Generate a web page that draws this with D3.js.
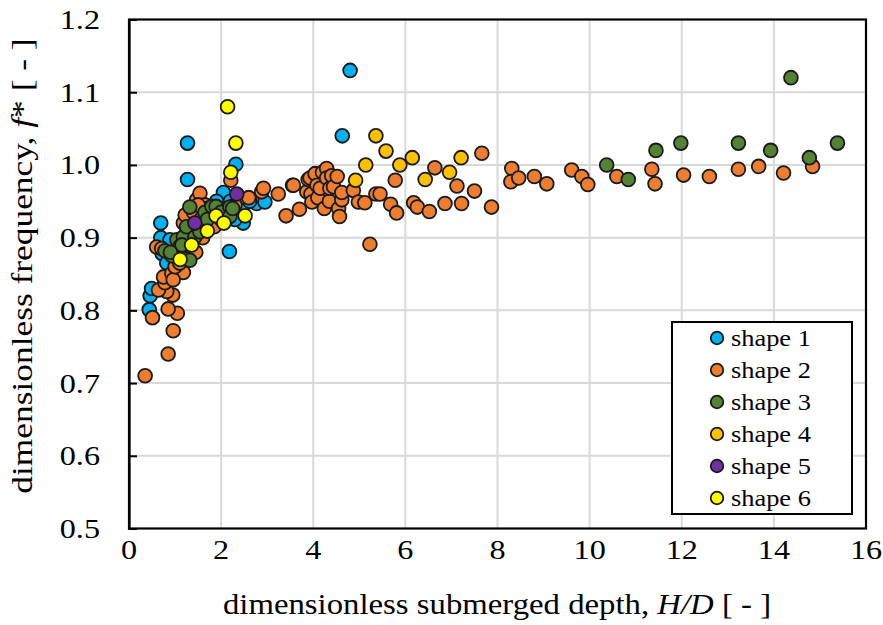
<!DOCTYPE html>
<html>
<head>
<meta charset="utf-8">
<script src="https://cdn.jsdelivr.net/npm/d3@7"></script>
<style>
  html, body { margin: 0; padding: 0; background: #ffffff; }
  svg { display: block; }
  text { font-family: "Liberation Serif", "Times New Roman", serif; fill: #000; }
</style>
</head>
<body>
<svg id="chart" width="883" height="625"></svg>
<script>
// ---------------- data ----------------
const seriesNames = ["shape 1", "shape 2", "shape 3", "shape 4", "shape 5", "shape 6"];
const seriesColors = ["#00B0F0", "#ED7D31", "#548235", "#FFC000", "#7030A0", "#FFFF00"];

const shape1 = [[0.44,0.801],[0.46,0.820],[0.49,0.830],[0.69,0.920],[0.69,0.900],[0.72,0.878],[0.89,0.897],
  [0.82,0.865],[1.00,0.875],[1.05,0.860],[1.27,1.030],[1.27,0.980],[2.18,0.881],[2.05,0.962],[2.32,1.001],
  [2.77,0.947],[2.95,0.949],[2.52,0.947],[2.48,0.920],[2.40,0.940],[2.62,0.950],[2.20,0.950],[1.90,0.950],
  [1.60,0.920],[2.30,0.925],[4.63,1.040],[4.80,1.130]];

const shape2 = [[0.35,0.710],[0.51,0.790],[0.85,0.740],[0.96,0.772],[1.05,0.796],[0.85,0.802],[0.95,0.821],
  [0.82,0.826],[0.64,0.828],[0.78,0.838],[0.75,0.846],[0.93,0.851],[1.18,0.852],[0.96,0.842],[0.60,0.887],
  [0.71,0.885],[1.00,0.860],[1.10,0.865],[1.22,0.880],[1.30,0.895],[1.18,0.920],[1.22,0.931],[1.40,0.935],
  [1.47,0.952],[1.54,0.961],[1.65,0.945],[1.75,0.925],[1.85,0.915],[1.60,0.900],[1.45,0.880],[2.00,0.925],
  [1.90,0.935],[2.10,0.940],[2.40,0.955],[1.70,0.940],[1.50,0.945],
  [2.21,0.979],[2.30,0.945],[2.60,0.955],[2.88,0.963],[2.92,0.968],[3.24,0.960],[3.41,0.930],[3.55,0.972],
  [3.57,0.972],[3.70,0.939],[3.86,0.963],[3.89,0.980],[3.93,0.982],[3.95,0.960],[3.97,0.949],[4.04,0.988],
  [4.08,0.972],[4.10,0.955],[4.15,0.968],[4.20,0.990],[4.24,0.940],[4.29,0.995],[4.29,0.982],[4.35,0.950],
  [4.36,0.968],[4.40,0.985],[4.44,0.970],[4.52,0.984],[4.55,0.940],[4.57,0.929],[4.62,0.952],[4.62,0.962],
  [4.87,0.965],[4.98,0.949],[5.12,0.948],[5.23,0.891],[5.36,0.960],[5.45,0.960],[5.68,0.946],[5.78,0.979],
  [5.81,0.934],[6.18,0.948],[6.26,0.942],[6.52,0.936],[6.64,0.996],[6.86,0.947],[7.12,0.971],[7.22,0.947],
  [7.50,0.964],[7.66,1.016],[7.87,0.942],[8.31,0.995],[8.29,0.977],[8.46,0.982],[8.80,0.984],[9.07,0.974],
  [9.61,0.993],[9.83,0.984],[9.96,0.973],[10.59,0.984],[11.35,0.994],[11.42,0.974],[12.04,0.986],
  [12.60,0.984],[13.23,0.994],[13.67,0.998],[14.21,0.989],[14.84,0.998]];

const shape3 = [[0.78,0.882],[0.93,0.875],[1.04,0.897],[1.11,0.888],[1.18,0.901],[1.24,0.871],[1.32,0.869],
  [1.15,0.890],[0.90,0.880],[1.25,0.915],[1.50,0.920],[1.32,0.942],[1.43,0.901],[1.54,0.908],[1.58,0.927],
  [1.65,0.935],[1.70,0.925],[1.80,0.943],[1.89,0.943],[2.00,0.935],[2.19,0.942],[2.19,0.929],[2.25,0.940],
  [10.37,1.000],[10.84,0.980],[11.44,1.020],[11.98,1.030],[13.23,1.030],[13.93,1.020],[14.37,1.120],
  [14.77,1.010],[15.38,1.030]];

const shape4 = [[4.92,0.979],[5.14,1.000],[5.36,1.040],[5.58,1.019],[5.88,1.000],[6.15,1.010],[6.43,0.980],
  [6.96,0.990],[7.21,1.010]];

const shape5 = [[1.43,0.920],[2.34,0.960]];

const shape6 = [[1.11,0.870],[1.36,0.890],[1.70,0.909],[1.89,0.930],[2.06,0.920],[2.52,0.930],[2.21,0.990],
  [2.32,1.030],[2.14,1.080]];

const allSeries = [shape1, shape2, shape3, shape4, shape5, shape6];

const xTicks = [0, 2, 4, 6, 8, 10, 12, 14, 16];
const yTicks = [0.5, 0.6, 0.7, 0.8, 0.9, 1.0, 1.1, 1.2];
const xTitle = ["dimensionless submerged depth, ", "H/D", " [ - ]"];
const yTitle = ["dimensionless frequency, ", "f", "*", " [ - ]"];

// ---------------- layout ----------------
const svg = d3.select("#chart");
const plot = { left: 129, right: 866, top: 19.5, bottom: 528.5 };

const x = d3.scaleLinear().domain([0, 16]).range([plot.left, plot.right]);
const y = d3.scaleLinear().domain([0.5, 1.2]).range([plot.bottom, plot.top]);

// gridlines
const grid = svg.append("g");
grid.selectAll("line.v").data(xTicks.filter(t => t > 0 && t < 16)).enter().append("line")
  .attr("x1", d => x(d)).attr("x2", d => x(d)).attr("y1", plot.top).attr("y2", plot.bottom)
  .attr("stroke", "#d9d9d9").attr("stroke-width", 2);
grid.selectAll("line.h").data(yTicks.filter(t => t > 0.5 && t < 1.2)).enter().append("line")
  .attr("x1", plot.left).attr("x2", plot.right).attr("y1", d => y(d)).attr("y2", d => y(d))
  .attr("stroke", "#d9d9d9").attr("stroke-width", 2);

// frame
svg.append("rect").attr("x", plot.left).attr("y", plot.top)
  .attr("width", plot.right - plot.left).attr("height", plot.bottom - plot.top)
  .attr("fill", "none").attr("stroke", "#000").attr("stroke-width", 2.2);

// left axis (inward ticks)
const yAxis = d3.axisRight(y).tickValues(yTicks).tickSize(8).tickFormat("");
const yAxisG = svg.append("g").attr("transform", `translate(${plot.left},0)`).call(yAxis);
yAxisG.select(".domain").attr("stroke", "#000").attr("stroke-width", 2.2);
yAxisG.selectAll(".tick line").attr("stroke", "#000").attr("stroke-width", 2);

// y tick labels
svg.append("g").selectAll("text").data(yTicks).enter().append("text")
  .attr("transform", d => `translate(100,${y(d) + 9.5}) scale(1.15,1)`)
  .attr("text-anchor", "end").attr("font-size", 28)
  .text(d => d3.format(".1f")(d));

// x tick labels
svg.append("g").selectAll("text").data(xTicks).enter().append("text")
  .attr("transform", d => `translate(${x(d)},559) scale(1.15,1)`)
  .attr("text-anchor", "middle").attr("font-size", 28)
  .text(d => d);

// x title
const xt = svg.append("text")
  .attr("transform", `translate(497,614) scale(1.13,1)`)
  .attr("text-anchor", "middle").attr("font-size", 29);
xt.append("tspan").text(xTitle[0]);
xt.append("tspan").attr("font-style", "italic").text(xTitle[1]);
xt.append("tspan").text(xTitle[2]);

// y title
const yt = svg.append("text")
  .attr("transform", `translate(32,266) rotate(-90) scale(1.22,1)`)
  .attr("text-anchor", "middle").attr("font-size", 29);
yt.append("tspan").text(yTitle[0]);
yt.append("tspan").attr("font-style", "italic").text(yTitle[1]);
yt.append("tspan").text(yTitle[2]);
yt.append("tspan").text(yTitle[3]);

// points
const pts = svg.append("g");
allSeries.forEach((data, i) => {
  pts.append("g").selectAll("circle").data(data).enter().append("circle")
    .attr("cx", d => x(d[0])).attr("cy", d => y(d[1])).attr("r", 6.9)
    .attr("fill", seriesColors[i]).attr("stroke", "#1a1a1a").attr("stroke-width", 1.8);
});

// legend
const lg = svg.append("g");
lg.append("rect").attr("x", 672).attr("y", 322).attr("width", 180).attr("height", 192)
  .attr("fill", "#fff").attr("stroke", "#000").attr("stroke-width", 2);
const rows = lg.selectAll("g.row").data(seriesNames).enter().append("g")
  .attr("transform", (d, i) => `translate(0,${338 + i * 32})`);
rows.append("circle").attr("cx", 717).attr("cy", 0).attr("r", 6.3)
  .attr("fill", (d, i) => seriesColors[i]).attr("stroke", "#1a1a1a").attr("stroke-width", 1.8);
rows.append("text").attr("transform", `translate(731,8) scale(1.1,1)`)
  .attr("font-size", 24).text(d => d);
</script>
</body>
</html>
